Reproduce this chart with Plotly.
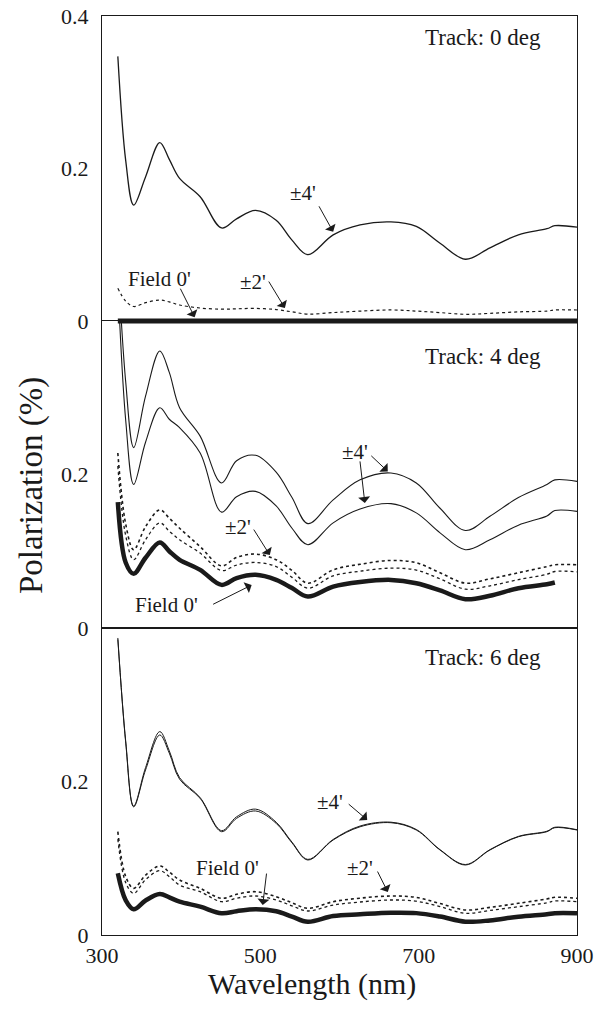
import plotly.graph_objects as go

# ---------------- data ----------------
wavelength = [320, 330, 340, 355, 373, 385, 398, 424, 451, 470, 494, 520, 540,
              560, 592, 626, 665, 697, 727, 759, 790, 826, 862, 872, 900]

# Track: 0 deg
t0_pm4 = [0.347, 0.210, 0.152, 0.189, 0.234, 0.212, 0.187, 0.163, 0.122, 0.134, 0.145, 0.132, 0.106,
          0.087, 0.113, 0.126, 0.130, 0.124, 0.102, 0.081, 0.096, 0.113, 0.121, 0.125, 0.123]
t0_pm2 = [0.043, 0.026, 0.019, 0.024, 0.0275, 0.025, 0.021, 0.017, 0.0155, 0.016, 0.0165, 0.015, 0.012,
          0.009, 0.011, 0.013, 0.0145, 0.013, 0.011, 0.0088, 0.010, 0.012, 0.013, 0.0145, 0.0144]
t0_field0 = [0.0] * 25

# Track: 4 deg
t4_pm4_a = [0.480, 0.320, 0.235, 0.302, 0.361, 0.333, 0.287, 0.250, 0.189, 0.218, 0.225, 0.203, 0.170,
            0.136, 0.167, 0.193, 0.202, 0.189, 0.156, 0.127, 0.1455, 0.170, 0.187, 0.193, 0.191]
t4_pm4_b = [0.450, 0.270, 0.187, 0.242, 0.287, 0.272, 0.261, 0.228, 0.151, 0.171, 0.178, 0.159, 0.130,
            0.1085, 0.137, 0.155, 0.162, 0.150, 0.124, 0.102, 0.115, 0.134, 0.146, 0.153, 0.152]
t4_pm2_a = [0.228, 0.135, 0.102, 0.132, 0.154, 0.143, 0.130, 0.106, 0.081, 0.092, 0.0963, 0.089, 0.075,
            0.0584, 0.0758, 0.083, 0.088, 0.085, 0.072, 0.0584, 0.064, 0.072, 0.080, 0.0824, 0.0824]
t4_pm2_b = [0.211, 0.120, 0.089, 0.115, 0.137, 0.126, 0.115, 0.0976, 0.0749, 0.082, 0.0854, 0.080, 0.066,
            0.0519, 0.068, 0.074, 0.078, 0.0755, 0.064, 0.0506, 0.055, 0.063, 0.070, 0.0736, 0.0732]
t4_field0 = [0.164, 0.085, 0.0706, 0.0915, 0.1115, 0.100, 0.0889, 0.0758, 0.0562, 0.065, 0.0693, 0.0627, 0.052,
             0.041, 0.054, 0.060, 0.0627, 0.0584, 0.049, 0.0375, 0.042, 0.0519, 0.057, 0.0593, None]

# Track: 6 deg
t6_pm4_a = [0.387, 0.250, 0.167, 0.215, 0.2606, 0.237, 0.203, 0.178, 0.1346, 0.152, 0.1616, 0.1455, 0.120,
            0.0977, 0.1238, 0.141, 0.1463, 0.1368, 0.1107, 0.0912, 0.1107, 0.128, 0.1346, 0.1398, 0.1368]
t6_pm4_b = [0.385, 0.252, 0.168, 0.218, 0.2650, 0.240, 0.205, 0.179, 0.1360, 0.154, 0.1640, 0.1470, 0.121,
            0.0985, 0.1245, 0.142, 0.1470, 0.1375, 0.1112, 0.0918, 0.1112, 0.1285, 0.1352, 0.1404, 0.1372]
t6_pm2_a = [0.1346, 0.076, 0.0608, 0.078, 0.0899, 0.082, 0.0717, 0.0608, 0.0478, 0.053, 0.0564, 0.0499, 0.042,
            0.0348, 0.0434, 0.048, 0.0508, 0.049, 0.041, 0.0326, 0.036, 0.0413, 0.047, 0.0491, 0.0478]
t6_pm2_b = [0.125, 0.068, 0.0543, 0.072, 0.0838, 0.076, 0.065, 0.0564, 0.0434, 0.048, 0.0508, 0.0456, 0.038,
            0.0313, 0.039, 0.043, 0.0456, 0.044, 0.037, 0.0283, 0.032, 0.0369, 0.042, 0.0443, 0.0434]
t6_field0 = [0.0804, 0.045, 0.0335, 0.045, 0.0534, 0.049, 0.0434, 0.0369, 0.0283, 0.031, 0.0335, 0.031, 0.024,
             0.0173, 0.0248, 0.027, 0.029, 0.0285, 0.024, 0.0173, 0.019, 0.0239, 0.027, 0.0283, 0.0283]

x_ticks = [300, 500, 700, 900]
y_ticks = [0, 0.2, 0.4]
y_tick_text = ["0", "0.2", "0.4"]
track_labels = ["Track: 0 deg", "Track: 4 deg", "Track: 6 deg"]

# ---------------- figure ----------------
INK = "#1a1a1a"
FONT = "Liberation Serif, Times New Roman, DejaVu Serif, serif"
fig = go.Figure()

def add_line(x_ax, y_ax, y, width, dash="solid"):
    fig.add_trace(go.Scatter(x=wavelength, y=y, mode="lines", xaxis=x_ax, yaxis=y_ax,
                             line=dict(color=INK, width=width, dash=dash, shape="spline", smoothing=1.0),
                             showlegend=False, hoverinfo="skip", connectgaps=False))

# top panel (x3, y3)
add_line("x3", "y3", t0_pm4, 1.3)
add_line("x3", "y3", t0_pm2, 1.2, "dot")
add_line("x3", "y3", t0_field0, 5)
# middle panel (x2, y2)
add_line("x2", "y2", t4_pm4_a, 1.1)
add_line("x2", "y2", t4_pm4_b, 1.1)
add_line("x2", "y2", t4_pm2_a, 1.6, "dot")
add_line("x2", "y2", t4_pm2_b, 1.3, "dot")
add_line("x2", "y2", t4_field0, 4.5)
# bottom panel (x, y)
add_line("x", "y", t6_pm4_a, 1.0)
add_line("x", "y", t6_pm4_b, 1.0)
add_line("x", "y", t6_pm2_a, 1.6, "dot")
add_line("x", "y", t6_pm2_b, 1.3, "dot")
add_line("x", "y", t6_field0, 4.5)

H_T, H_B = 16, 74
plot_h = 1009 - H_T - H_B
b_dom = [0, 307 / plot_h]
m_dom = [307 / plot_h, 614 / plot_h]
t_dom = [(935 - 326) / plot_h, 1]
delta = 0.4 * 5 / 305

axis_common = dict(showgrid=False, zeroline=False, ticks="", ticklen=0, linecolor=INK, linewidth=1.2,
                   automargin=False, tickfont=dict(family=FONT, size=22, color=INK))

fig.update_layout(
    width=603, height=1009,
    margin=dict(l=102, r=26, t=H_T, b=H_B, autoexpand=False),
    paper_bgcolor="white", plot_bgcolor="rgba(0,0,0,0)",
    font=dict(family=FONT, color=INK),
    xaxis=dict(domain=[0, 1], anchor="y", range=[300, 900], tickvals=x_ticks,
               showline=True, mirror=True, ticklabelstandoff=0, **axis_common),
    yaxis=dict(domain=b_dom, anchor="x", range=[0, 0.4], tickvals=y_ticks[:2], ticktext=y_tick_text[:2],
               showline=True, mirror=True, ticklabelstandoff=8, **axis_common),
    xaxis2=dict(domain=[0, 1], anchor="y2", range=[300, 900], showticklabels=False,
                showline=True, mirror=True, **axis_common),
    yaxis2=dict(domain=m_dom, anchor="x2", range=[0, 0.4], tickvals=y_ticks[:2], ticktext=y_tick_text[:2],
                showline=True, mirror=True, ticklabelstandoff=8, **axis_common),
    xaxis3=dict(domain=[0, 1], anchor="y3", range=[300, 900], showticklabels=False, side="top",
                showline=True, mirror=False, **axis_common),
    yaxis3=dict(domain=t_dom, anchor="x3", range=[-delta, 0.4], tickvals=y_ticks, ticktext=y_tick_text,
                showline=True, mirror=True, ticklabelstandoff=8, **axis_common),
)

ann = []
# track labels
for xr, yr, yv, txt in [("x3", "y3", 0.372, track_labels[0]),
                        ("x2", "y2", 0.354, track_labels[1]),
                        ("x", "y", 0.361, track_labels[2])]:
    ann.append(dict(x=857, y=yv, xref=xr, yref=yr, text=txt, showarrow=False,
                    xanchor="right", yanchor="middle", font=dict(family=FONT, size=23, color=INK)))

# curve labels (text) and arrows
labels = [
    ("x3", "y3", 554, 0.168, "±4'"), ("x3", "y3", 373, 0.055, "Field 0'"), ("x3", "y3", 491, 0.051, "±2'"),
    ("x2", "y2", 619, 0.229, "±4'"), ("x2", "y2", 472, 0.132, "±2'"), ("x2", "y2", 382, 0.030, "Field 0'"),
    ("x", "y", 588, 0.173, "±4'"), ("x", "y", 459, 0.087, "Field 0'"), ("x", "y", 626, 0.087, "±2'"),
]
for xr, yr, xv, yv, txt in labels:
    ann.append(dict(x=xv, y=yv, xref=xr, yref=yr, text=txt, showarrow=False,
                    xanchor="center", yanchor="middle", font=dict(family=FONT, size=21, color=INK)))

arrows = [
    ("x3", "y3", 592, 0.117, -15, -27), ("x3", "y3", 417, 0.005, -15, -30), ("x3", "y3", 531, 0.017, -17, -28),
    ("x2", "y2", 661, 0.204, -18, -17), ("x2", "y2", 632, 0.163, -5, -43), ("x2", "y2", 512, 0.095, -17, -27),
    ("x2", "y2", 489, 0.056, -40, 20),
    ("x", "y", 635, 0.150, -20, -17), ("x", "y", 503, 0.039, 4, -33), ("x", "y", 661, 0.056, -11, -22),
]
for xr, yr, xv, yv, ax, ay in arrows:
    ann.append(dict(x=xv, y=yv, xref=xr, yref=yr, text="", showarrow=True, ax=ax, ay=ay,
                    arrowhead=1, arrowsize=2, arrowwidth=1, arrowcolor=INK))

# axis titles
ann.append(dict(x=(312 - 102) / 475, y=(935 - 984) / plot_h, xref="paper", yref="paper",
                text="Wavelength (nm)", showarrow=False, xanchor="center", yanchor="middle",
                font=dict(family=FONT, size=30, color=INK)))
ann.append(dict(x=(32 - 102) / 475, y=(935 - 486) / plot_h, xref="paper", yref="paper",
                text="Polarization (%)", showarrow=False, textangle=-90, xanchor="center", yanchor="middle",
                font=dict(family=FONT, size=33, color=INK)))

fig.update_layout(annotations=ann)
fig.write_html("out.html", config={"displayModeBar": False},
               post_script="document.body.style.margin='0px';document.body.style.overflow='hidden';")
